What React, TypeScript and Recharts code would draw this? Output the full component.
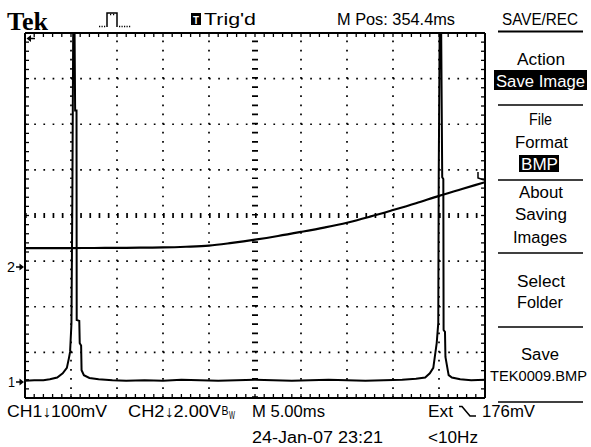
import React from 'react';
import { LineChart, Line, XAxis, YAxis, ReferenceLine } from 'recharts';

// ---- data (time in ms, amplitude in screen divisions) ----
const ch1Time = [0, 1.0, 2.0, 2.7, 3.5, 4.1, 4.55, 4.78, 4.9, 5.05, 5.15, 5.3, 5.45, 5.6, 5.62, 5.9, 5.95, 6.1, 6.15, 6.4, 7.0, 8.0, 9.5, 11, 13, 15, 17, 19, 21, 23, 25, 27, 29, 31, 33, 35, 37, 39, 41, 42.5, 43.5, 44.0, 44.38, 44.57, 44.75, 44.92, 44.97, 45.15, 45.35, 45.47, 45.5, 45.65, 45.7, 45.95, 46.05, 46.4, 47.3, 48.5, 50];
const ch1Value = [-3.62, -3.61, -3.61, -3.59, -3.55, -3.46, -3.34, -3.12, -2.99, -2.36, 0.5, 6.5, 2.3, 2.3, -2.29, -2.31, -2.8, -2.85, -3.39, -3.5, -3.56, -3.59, -3.61, -3.62, -3.61, -3.62, -3.6, -3.61, -3.62, -3.61, -3.6, -3.61, -3.62, -3.61, -3.6, -3.61, -3.62, -3.61, -3.6, -3.58, -3.55, -3.46, -3.34, -3.06, -2.8, -2.36, 0.84, 6.5, 0.84, 0.8, -2.51, -2.55, -3.1, -3.39, -3.5, -3.55, -3.59, -3.61, -3.6];

const ch2Time = [0, 2.5, 5, 7.5, 10, 12.5, 15, 17.5, 20, 22.5, 25, 27.5, 30, 32.5, 35, 37.5, 40, 42.5, 45, 47.5, 50];
const ch2Value = [-0.715, -0.715, -0.713, -0.712, -0.71, -0.705, -0.7, -0.685, -0.66, -0.6, -0.53, -0.45, -0.36, -0.265, -0.158, -0.025, 0.12, 0.27, 0.43, 0.58, 0.73];

const gridX = [5, 10, 15, 20, 30, 35, 40, 45];
const gridY = [-3, -2, -1, 1, 2, 3];
const centerX = 25;
const centerY = 0;

const minorX = Array.from({ length: 51 }, (_, i) => i);
const minorY = Array.from({ length: 41 }, (_, i) => Math.round((-4 + i * 0.2) * 10) / 10);

const ch1Data = ch1Time.map((t, i) => ({ t, v: ch1Value[i] }));
const ch2Data = ch2Time.map((t, i) => ({ t, v: ch2Value[i] }));

const FONT = '"Liberation Sans", "DejaVu Sans", Arial, sans-serif';

type Lbl = { s: string; x: number; y: number; w: number; size?: number; fill?: string };
const labels: Lbl[] = [
  { s: "Trig'd", x: 204, y: 25, w: 52 },
  { s: 'M Pos: 354.4ms', x: 337, y: 25, w: 118 },
  { s: 'SAVE/REC', x: 502, y: 25, w: 76 },
  { s: 'Action', x: 517, y: 65, w: 48 },
  { s: 'Save Image', x: 496, y: 86.5, w: 89, fill: '#fff' },
  { s: 'File', x: 529, y: 125, w: 23 },
  { s: 'Format', x: 515, y: 148, w: 53 },
  { s: 'BMP', x: 521, y: 170, w: 37, fill: '#fff' },
  { s: 'About', x: 519, y: 198, w: 44 },
  { s: 'Saving', x: 515, y: 220, w: 52 },
  { s: 'Images', x: 513, y: 243, w: 54 },
  { s: 'Select', x: 517, y: 286.5, w: 48 },
  { s: 'Folder', x: 517, y: 308, w: 46 },
  { s: 'Save', x: 521, y: 360, w: 38 },
  { s: 'TEK0009.BMP', x: 490, y: 381, w: 97, size: 15 },
  { s: 'CH1\u2193100mV', x: 7, y: 416.5, w: 100 },
  { s: 'CH2\u21932.00V', x: 128, y: 416.5, w: 93 },
  { s: 'M 5.00ms', x: 252, y: 416.5, w: 73 },
  { s: 'Ext', x: 428, y: 416.5, w: 25 },
  { s: '176mV', x: 482, y: 416.5, w: 53 },
  { s: '24-Jan-07 23:21', x: 252, y: 443, w: 131 },
  { s: '<10Hz', x: 428, y: 443, w: 50 },
  { s: '2', x: 7, y: 272, w: 8, size: 14 },
  { s: '1', x: 8, y: 387, w: 7, size: 14 },
];

const separators = [105, 180, 253, 327, 402];

const NoLabel = () => <g />;

function Overlay() {
  return (
    <svg width={591} height={447} style={{ position: 'absolute', left: 0, top: 0, pointerEvents: 'none' }}>
      <text x={7} y={29.5} fontFamily='"Liberation Serif", "DejaVu Serif", serif' fontWeight="bold" fontSize={25} textLength={41} lengthAdjust="spacingAndGlyphs">Tek</text>
      {/* pulse icon */}
      <path d="M99,26.5h1.2M101.5,26.5h1.2M104,26.5h1.2M107,27V13H117V27M119,26.5h1.2M121.5,26.5h1.2M124,26.5h1.2M126.5,26.5h1.2M129,26.5h1.2" stroke="#000" strokeWidth={1.5} fill="none" />
      <path d="M110,14.5h1.2M113,14.5h1.2" stroke="#000" strokeWidth={1.5} />
      {/* Trig'd box */}
      <rect x={191} y={13} width={10} height={12} fill="#000" />
      <text x={193} y={23.5} fontFamily={FONT} fontWeight="bold" fontSize={11} fill="#fff" textLength={6} lengthAdjust="spacingAndGlyphs">T</text>
      {/* menu boxes */}
      <rect x={494} y={70} width={93} height={20} fill="#000" />
      <rect x={519} y={155} width={40} height={17} fill="#000" />
      <line x1={498} x2={583} y1={31.5} y2={31.5} stroke="#000" strokeWidth={2} />
      {separators.map((y) => (
        <line key={y} x1={498} x2={583} y1={y} y2={y} stroke="#000" strokeWidth={1.6} />
      ))}
      {labels.map((l, i) => (
        <text key={i} x={l.x} y={l.y} fontFamily={FONT} fontSize={l.size ?? 16} fill={l.fill ?? '#000'} textLength={l.w} lengthAdjust="spacingAndGlyphs">
          {l.s}
        </text>
      ))}
      {/* Bw */}
      <text x={221.5} y={415} fontFamily={FONT} fontSize={12} textLength={7} lengthAdjust="spacingAndGlyphs">B</text>
      <text x={229} y={419} fontFamily={FONT} fontSize={10} textLength={6} lengthAdjust="spacingAndGlyphs">W</text>
      {/* falling edge symbol */}
      <path d="M459,406.5H462L470,416H476" stroke="#000" strokeWidth={1.6} fill="none" />
      {/* ground markers */}
      <path d="M16,267H20" stroke="#000" strokeWidth={1.5} />
      <path d="M19.5,263.5L24,267L19.5,270.5Z" fill="#000" />
      <path d="M16,382H20" stroke="#000" strokeWidth={1.5} />
      <path d="M19.5,378.5L24,382L19.5,385.5Z" fill="#000" />
      {/* trigger position arrow */}
      <path d="M26.5,38.5L31,35L31,42Z" fill="#000" />
      <path d="M30,38.5H35" stroke="#000" strokeWidth={1.5} />
      {/* trigger level marker */}
      <path d="M478,172V178L484,180" stroke="#000" strokeWidth={1.5} fill="none" />
    </svg>
  );
}

const axisLine = { stroke: '#000', strokeWidth: 2 };
const tickLine = { stroke: '#000', strokeWidth: 1.3 };

export default function App() {
  return (
    <div style={{ position: 'absolute', left: 0, top: 0, width: 591, height: 447, background: '#fff' }}>
      <LineChart width={591} height={447} margin={{ top: 33, right: 106, bottom: 49, left: 25 }}>
        <XAxis xAxisId="b" type="number" dataKey="t" domain={[0, 50]} ticks={minorX} interval={0} orientation="bottom" mirror height={20} tick={NoLabel} tickSize={4} axisLine={axisLine} tickLine={tickLine} allowDataOverflow />
        <XAxis xAxisId="t" type="number" dataKey="t" domain={[0, 50]} ticks={minorX} interval={0} orientation="top" mirror height={20} tick={NoLabel} tickSize={4} axisLine={axisLine} tickLine={tickLine} allowDataOverflow />
        <YAxis yAxisId="l" type="number" domain={[-4, 4]} ticks={minorY} interval={0} orientation="left" mirror width={20} tick={NoLabel} tickSize={4} axisLine={axisLine} tickLine={tickLine} allowDataOverflow />
        <YAxis yAxisId="r" type="number" domain={[-4, 4]} ticks={minorY} interval={0} orientation="right" mirror width={20} tick={NoLabel} tickSize={4} axisLine={axisLine} tickLine={tickLine} allowDataOverflow />
        {gridX.map((x) => (
          <ReferenceLine key={'gx' + x} xAxisId="b" yAxisId="l" x={x} stroke="#000" strokeWidth={1.7} strokeDasharray="1.7 7.42" />
        ))}
        {gridY.map((y) => (
          <ReferenceLine key={'gy' + y} xAxisId="b" yAxisId="l" y={y} stroke="#000" strokeWidth={1.7} strokeDasharray="1.7 7.5" />
        ))}
        <ReferenceLine xAxisId="b" yAxisId="l" x={centerX} stroke="#000" strokeWidth={6} strokeDasharray="1.7 7.42" />
        <ReferenceLine xAxisId="b" yAxisId="l" y={centerY} stroke="#000" strokeWidth={5} strokeDasharray="1.7 7.5" />
        <Line xAxisId="b" yAxisId="l" data={ch2Data} dataKey="v" type="monotone" stroke="#000" strokeWidth={2.2} dot={false} isAnimationActive={false} />
        <Line xAxisId="b" yAxisId="l" data={ch1Data} dataKey="v" type="linear" stroke="#000" strokeWidth={2} dot={false} isAnimationActive={false} />
      </LineChart>
      <Overlay />
    </div>
  );
}
